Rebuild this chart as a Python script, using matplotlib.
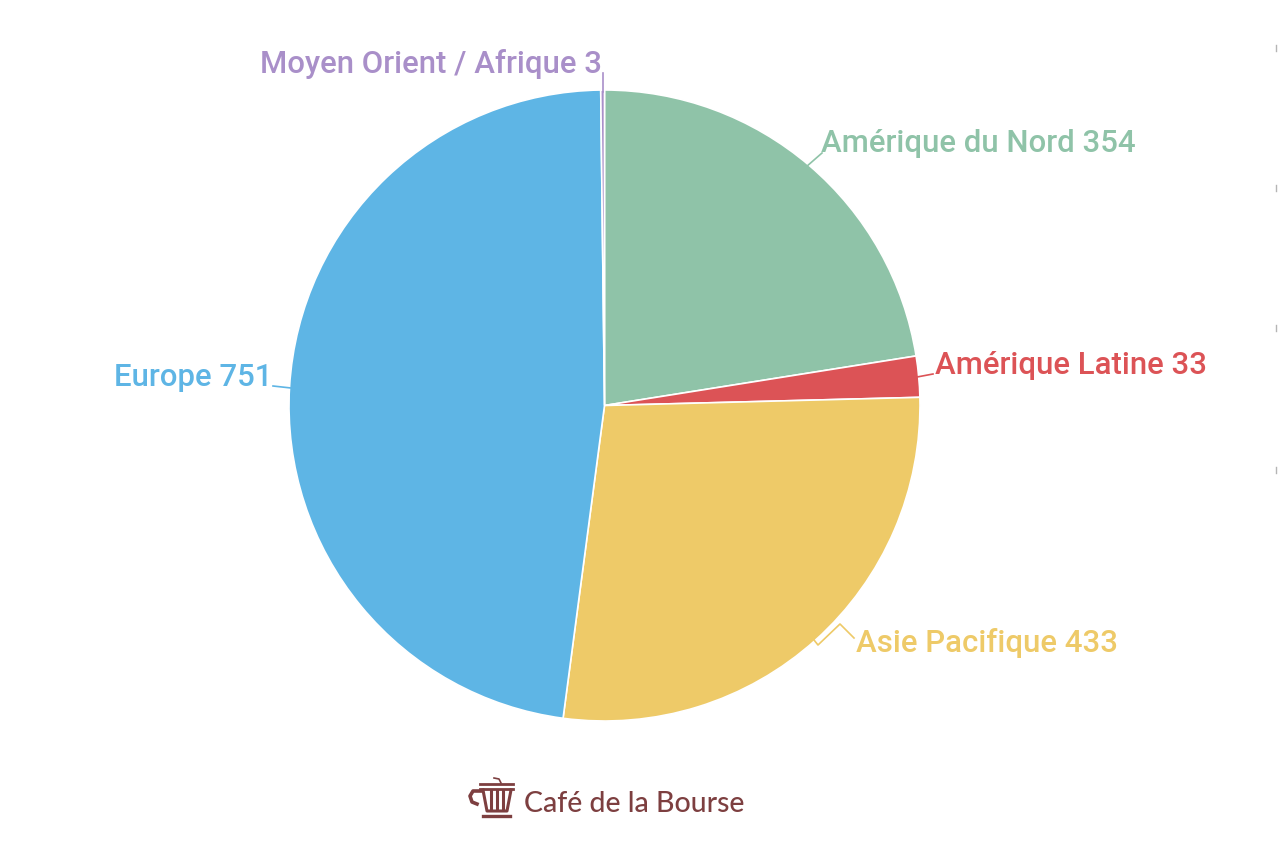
import matplotlib
matplotlib.use("Agg")
import matplotlib.pyplot as plt

regions = ["Amérique du Nord", "Amérique Latine", "Asie Pacifique", "Europe", "Moyen Orient / Afrique"]
counts = [354, 33, 433, 751, 3]
colors = ["#8fc3a8", "#dc5356", "#eeca68", "#5eb5e5", "#a98fc9"]

W, H = 1280, 848
plt.rcParams['font.family'] = ['Roboto', 'DejaVu Sans']

# everything is laid out in image pixels, y flipped by py()
def py(y):
    return H - y

fig = plt.figure(figsize=(W / 100, H / 100), dpi=100)
ax = fig.add_axes([0, 0, 1, 1])

ax.pie(counts, colors=colors, startangle=90, counterclock=False,
       center=(604.5, py(405.5)), radius=315.5, frame=True,
       wedgeprops=dict(edgecolor='white', linewidth=1.2))
ax.set_xlim(0, W)
ax.set_ylim(0, H)
ax.set_aspect('equal')
ax.axis('off')

# label anchor and leader line for each region
label_pos = [(821, 144, 'left'), (935, 366, 'left'), (856, 643, 'left'),
             (272, 378, 'right'), (602, 64, 'right')]
leaders = [[(806, 167), (822, 153)],
           [(917, 377), (933, 374)],
           [(814, 640), (818, 645), (840, 624), (854, 638)],
           [(291, 388), (273, 386)],
           [(603, 92), (603, 73)]]

for name, val, col, (x, y, ha), pts in zip(regions, counts, colors, label_pos, leaders):
    ax.text(x, py(y), f"{name} {val}", color=col, fontsize=22.4, fontweight='medium',
            ha=ha, va='center')
    ax.plot([p[0] for p in pts], [py(p[1]) for p in pts], color=col, lw=1.2)

# logo
logo = "#7d3f40"
ax.text(524, py(804), "Café de la Bourse", color=logo, fontsize=20.5,
        family=['Lato', 'DejaVu Sans'], fontweight='medium', ha='left', va='center')
ax.plot([480, 513], [py(784), py(784)], color=logo, lw=2)
ax.plot([480, 513], [py(789), py(789)], color=logo, lw=2)
ax.plot([483, 510], [py(816), py(816)], color=logo, lw=2.4)
ax.plot([483, 487, 507, 511], [py(790), py(811), py(811), py(790)], color=logo, lw=2.2)
for bx in [491, 497, 503]:
    ax.plot([bx, bx], [py(791), py(809)], color=logo, lw=2.2)
ax.plot([482, 473, 470, 472, 477], [py(791), py(791), py(796), py(802), py(804)], color=logo, lw=2.6)
ax.plot([494, 499, 501], [py(778), py(779), py(783)], color=logo, lw=1.2)

# cut off bullets at right edge
for by in [48, 188, 328, 470]:
    ax.plot([1276, 1276], [py(by - 3), py(by + 3)], color="#b5b5b5", lw=1.0)

fig.savefig("out.png", dpi=100, facecolor='white')
plt.close(fig)
